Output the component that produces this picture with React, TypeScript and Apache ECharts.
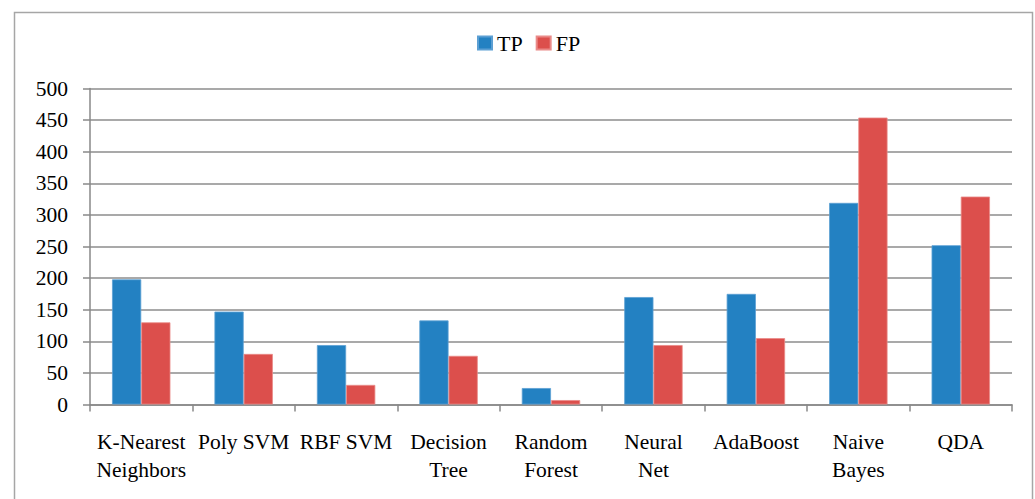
import React, { useEffect, useRef } from "react";
import * as echarts from "echarts";

const categories = [
  "K-Nearest\nNeighbors",
  "Poly SVM",
  "RBF SVM",
  "Decision\nTree",
  "Random\nForest",
  "Neural\nNet",
  "AdaBoost",
  "Naive\nBayes",
  "QDA",
];
const tpValues = [198, 147, 94, 133, 26, 170, 175, 319, 252];
const fpValues = [130, 80, 31, 77, 7, 94, 105, 454, 329];
const seriesNames = ["TP", "FP"];

const FONT = "'Liberation Serif', 'Times New Roman', serif";

export default function App() {
  const ref = useRef<HTMLDivElement>(null);
  useEffect(() => {
    if (!ref.current) return;
    const chart = echarts.init(ref.current, undefined, { renderer: "svg" });
    chart.setOption({
      animation: false,
      backgroundColor: "#ffffff",
      textStyle: { fontFamily: FONT },
      graphic: [
        {
          type: "rect",
          shape: { x: 14.5, y: 12.5, width: 1018, height: 520 },
          style: { fill: "none", stroke: "#a6a6a6", lineWidth: 1.5 },
          silent: true,
        },
      ],
      legend: {
        top: 27,
        left: 472,
        itemWidth: 14,
        itemHeight: 13,
        itemGap: 13,
        icon: "rect",
        textStyle: { fontFamily: FONT, fontSize: 22, color: "#000" },
        data: seriesNames,
      },
      grid: { left: 90, right: 23, top: 88.5, bottom: 94.5, containLabel: false },
      xAxis: {
        type: "category",
        data: categories,
        axisLine: { show: true, lineStyle: { color: "#888", width: 1.5 } },
        axisTick: { show: true, length: 7, alignWithLabel: false, lineStyle: { color: "#888", width: 1.5 } },
        axisLabel: {
          interval: 0,
          margin: 23,
          fontFamily: FONT,
          fontSize: 21.5,
          color: "#000",
          lineHeight: 28,
          align: "center",
        },
        splitLine: { show: false },
      },
      yAxis: {
        type: "value",
        min: 0,
        max: 500,
        interval: 50,
        axisLine: { show: true, lineStyle: { color: "#888", width: 1.5 } },
        axisTick: { show: true, length: 7, lineStyle: { color: "#888", width: 1.5 } },
        axisLabel: { margin: 22, fontFamily: FONT, fontSize: 21.5, color: "#000" },
        splitLine: { show: true, lineStyle: { color: "#8c8c8c", width: 1.5 } },
      },
      series: [
        {
          name: seriesNames[0],
          type: "bar",
          data: tpValues,
          barGap: "0%",
          barCategoryGap: "43%",
          itemStyle: { color: "#2381c2", borderColor: "#5c9fd3", borderWidth: 0.8 },
        },
        {
          name: seriesNames[1],
          type: "bar",
          data: fpValues,
          barGap: "0%",
          barCategoryGap: "43%",
          itemStyle: { color: "#dc4f4c", borderColor: "#ea8a88", borderWidth: 0.8 },
        },
      ],
    });
    return () => chart.dispose();
  }, []);
  return (
    <div
      ref={ref}
      style={{ position: "fixed", left: 0, top: 0, width: 1035, height: 499 }}
    />
  );
}
